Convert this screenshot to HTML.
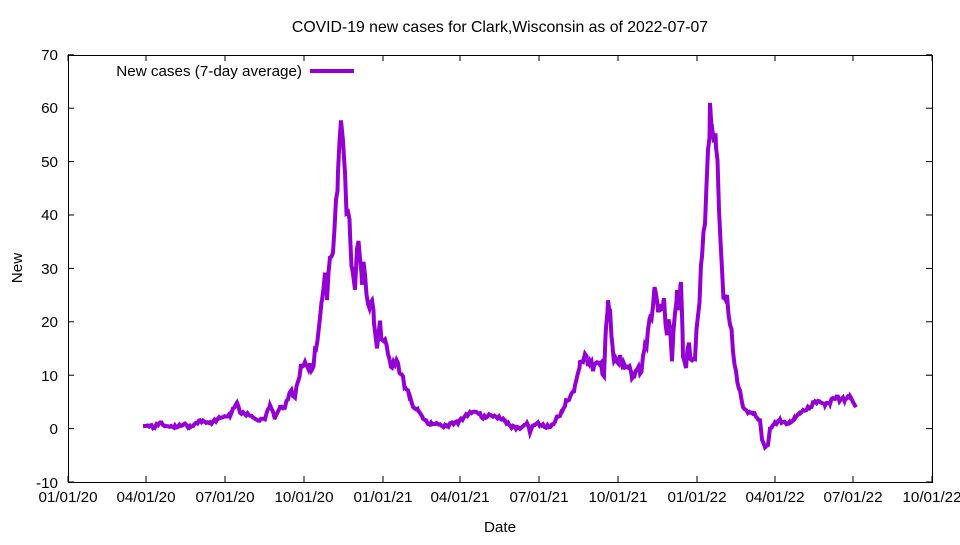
<!DOCTYPE html>
<html><head><meta charset="utf-8"><style>
html,body{margin:0;padding:0;background:#fff}
text{font-family:"Liberation Sans",sans-serif;font-size:15.2px;fill:#000}
</style></head><body>
<svg width="960" height="540" viewBox="0 0 960 540" xmlns="http://www.w3.org/2000/svg">
<rect width="960" height="540" fill="#fff"/>
<g id="grid" stroke="#000" stroke-width="1"></g>
<rect x="68.5" y="55.5" width="864" height="427" fill="none" stroke="#000" stroke-width="1"/>
<text x="500" y="32" text-anchor="middle" style="font-size:15.8px">COVID-19 new cases for Clark,Wisconsin as of 2022-07-07</text>
<text x="500" y="532" text-anchor="middle">Date</text>
<text transform="translate(22,268) rotate(-90)" text-anchor="middle">New</text>
<g text-anchor="end">
<text x="58" y="488">-10</text><text x="58" y="434">0</text><text x="58" y="381">10</text><text x="58" y="327">20</text>
<text x="58" y="274">30</text><text x="58" y="220">40</text><text x="58" y="167">50</text><text x="58" y="113">60</text><text x="58" y="60">70</text>
</g>
<g text-anchor="middle">
<text x="68" y="502">01/01/20</text><text x="146" y="502">04/01/20</text><text x="225" y="502">07/01/20</text><text x="304" y="502">10/01/20</text>
<text x="383" y="502">01/01/21</text><text x="460" y="502">04/01/21</text><text x="539" y="502">07/01/21</text><text x="618" y="502">10/01/21</text>
<text x="697" y="502">01/01/22</text><text x="775" y="502">04/01/22</text><text x="853" y="502">07/01/22</text><text x="932" y="502">10/01/22</text>
</g>
<text x="302" y="76" text-anchor="end">New cases (7-day average)</text>
<line x1="310" y1="71" x2="354" y2="71" stroke="#9400d3" stroke-width="4"/>
<polyline id="series" fill="none" stroke="#9400d3" stroke-width="4" stroke-linejoin="miter"/>
</svg>
<script>
var g=document.getElementById('grid'),s='';
for(var v=-10;v<=70;v+=10){var y=428.6-v*5.34;s+='<line x1="68" x2="74" y1="'+y+'" y2="'+y+'"/><line x1="926" x2="932" y1="'+y+'" y2="'+y+'"/>';}
[68,146,225,304,383,460,539,618,697,775,853,932].forEach(function(x){s+='<line x1="'+x+'" x2="'+x+'" y1="482" y2="476"/><line x1="'+x+'" x2="'+x+'" y1="55" y2="61"/>';});
g.innerHTML=s;
var d=[143,0.5,150,0.5,155,0.3,160,1.2,165,0.5,175,0.3,185,0.8,190,0.2,200,1.5,210,1,220,2,230,2.5,237,5,240,3,250,2.5,258,1.5,265,2,270,4.5,275,2,280,4,285,4,290,7,295,6,298,9,302,12,307,12,312,11,316,15,320,20,322,24,325,29,327,25,330,32,333,33,336,42,338,47,341,59,343,53,345,45,348,41,350,35,352,30,355,26,357,34,360,33,362,28,365,30,368,22,372,25,374,20,377,15,380,20,382,16,385,17,388,14,392,11,395,13,400,11,405,8,410,6,413,4,418,3.5,423,2,428,1,432,0.8,437,1,442,0.5,447,0.5,452,1,458,1.2,463,2,470,3,477,3.2,483,2,490,2.5,500,2,505,1.5,510,0.5,520,0,527,1,530,-0.5,535,1,540,0.8,546,0.3,552,0.5,557,2,562,3,566,5,571,6,575,8,580,12,585,13.5,590,12,594,11.5,598,13,604,10,606,18,608,24,610,21,612,17,614,13,617,12.5,620,13,624,11.5,628,12,632,10,634,9,637,12,640,10,645,15,650,20,653,23,656,27,658,22,661,23,664,23,667,18,670,20,672,13,675,22,677,26,679,23,681,29,683,13,686,12,689,16,692,12,695,14,698,21,702,32,705,40,708,50,710,61,712,55,714,58,716,53,719,43,722,28,724,25,727,24,730,20,733,15,736,10,740,7,743,4,748,3,753,3,757,2,760,1.5,762,-2,765,-3.5,768,-3,770,0,775,1,780,1.5,785,1,790,1,795,2,800,3,805,3.5,810,4,815,5,820,5,825,4.5,830,5,835,6,840,5.5,845,5.5,850,6,853,5,856,4];
var p=[];for(var i=0;i<d.length;i+=2){var x0=d[i],vv=d[i+1];
if(i+2<d.length){var x1=d[i+2],v1=d[i+3];for(var x=x0;x<x1;x+=1.5){var t=(x-x0)/(x1-x0);var val=vv+(v1-vv)*t;var amp=Math.max(0.3,Math.abs(val)*0.08);val+=(Math.sin(x*2.7)+Math.sin(x*1.3))*amp*0.5;p.push(x.toFixed(1)+','+(428.6-val*5.34).toFixed(1));}}
else p.push(x0+','+(428.6-vv*5.34).toFixed(1));}
document.getElementById('series').setAttribute('points',p.join(' '));
</script>
</body></html>
